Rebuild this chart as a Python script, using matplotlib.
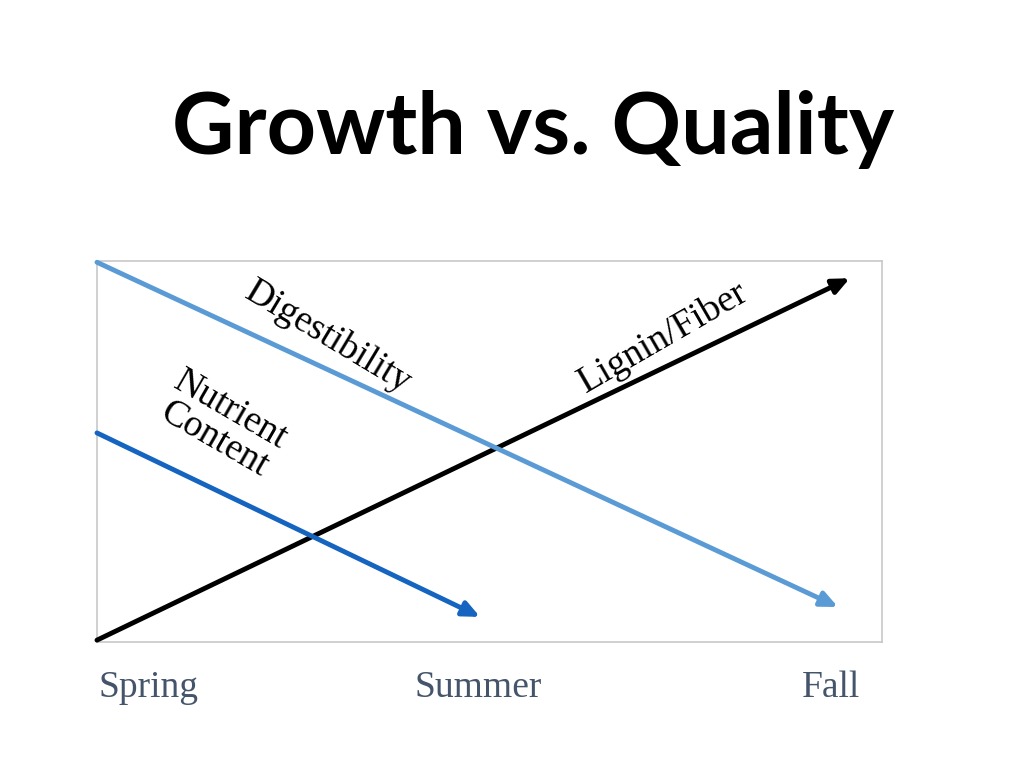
import matplotlib
matplotlib.use("Agg")
import matplotlib.pyplot as plt

title = "Growth vs. Quality"
seasons = ["Spring", "Summer", "Fall"]
season_x = [0.066, 0.485, 0.935]
lines = {
    "Lignin/Fiber": ([0.0, 0.959], [0.005, 0.955], "#000000"),
    "Digestibility": ([0.0, 0.944], [0.997, 0.092], "#5b9bd5"),
    "Nutrient\nContent": ([0.0, 0.488], [0.549, 0.066], "#1565c0"),
}
labels = [("Digestibility", 0.294, 0.80, -31), ("Lignin/Fiber", 0.721, 0.80, 30),
          ("Nutrient\nContent", 0.16, 0.57, -30)]

fig = plt.figure(figsize=(10.24, 7.68), dpi=100)
ax = fig.add_axes([0.0947, 0.164, 0.7666, 0.496])
ax.set_xlim(0, 1); ax.set_ylim(0, 1)
ax.set_xticks([]); ax.set_yticks([])
for s in ax.spines.values():
    s.set_color("#c8c8c8"); s.set_linewidth(1.2)
for name, (xs, ys, c) in lines.items():
    ax.annotate("", xy=(xs[1], ys[1]), xytext=(xs[0], ys[0]),
                arrowprops=dict(arrowstyle="-|>,head_length=1.0,head_width=0.45", color=c, lw=3.5,
                                shrinkA=0, shrinkB=0), annotation_clip=False)
for t, x, y, r in labels:
    ax.text(x, y, t, rotation=r, ha="center", va="center", fontsize=27,
            family="Liberation Serif", rotation_mode="anchor", linespacing=0.95)
for s, x in zip(seasons, season_x):
    ax.text(x, -0.12, s, ha="center", va="center", fontsize=27,
            family="Liberation Serif", color="#44546a", transform=ax.transAxes)
fig.text(0.521, 0.832, title, ha="center", va="center", fontsize=62,
         family="Lato", weight="bold")
fig.savefig("out.png", dpi=100)
